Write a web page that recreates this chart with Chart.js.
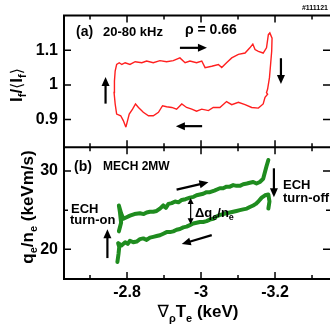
<!DOCTYPE html>
<html><head><meta charset="utf-8">
<script src="https://cdn.jsdelivr.net/npm/chart.js@4.4.1/dist/chart.umd.min.js"></script>
<style>html,body{margin:0;padding:0;background:#fff;overflow:hidden}#c{display:block}</style>
</head><body>
<canvas id="c" width="330" height="327"></canvas>
<script>
// ---- data ----
const xTicks = [-2.8, -3, -3.2];
const xMinorTicks = [-2.7, -2.9, -3.1, -3.3];
const fTicks = [0.9, 1, 1.1];
const qTicks = [20, 30];
const qMinorTicks = [25];

// (a) fluctuation amplitude loop  I_f/<I_f>
const fluctX = [-2.797,-2.790,-2.783,-2.772,-2.768,-2.765,-2.766,-2.768,-2.772,-2.779,
  -2.786,-2.795,-2.808,-2.822,-2.840,-2.853,-2.871,-2.889,-2.907,-2.925,
  -2.943,-2.957,-2.970,-2.988,-3.002,-3.011,-3.029,-3.047,-3.056,-3.069,
  -3.083,-3.101,-3.119,-3.132,-3.140,-3.146,-3.155,-3.168,-3.177,-3.182,
  -3.186,-3.192,-3.191,-3.188,-3.185,-3.180,-3.177,-3.180,-3.173,-3.168,
  -3.155,-3.137,-3.119,-3.101,-3.083,-3.069,-3.051,-3.033,-3.020,-3.002,
  -2.988,-2.975,-2.961,-2.948,-2.934,-2.921,-2.907,-2.896,-2.885,-2.871,
  -2.858,-2.844,-2.831,-2.823,-2.815,-2.806,-2.797];
const fluctY = [0.878,0.897,0.911,0.916,0.945,0.978,1.011,1.040,1.059,1.064,
  1.059,1.064,1.059,1.067,1.064,1.069,1.064,1.070,1.067,1.070,
  1.078,1.064,1.069,1.064,1.069,1.050,1.054,1.059,1.050,1.064,
  1.078,1.088,1.092,1.107,1.118,1.102,1.097,1.092,1.107,1.145,
  1.150,1.135,1.097,1.059,1.021,0.988,0.978,0.973,0.964,0.945,
  0.933,0.935,0.943,0.950,0.943,0.952,0.935,0.935,0.926,0.930,
  0.924,0.930,0.935,0.945,0.930,0.935,0.937,0.940,0.921,0.911,
  0.911,0.921,0.935,0.945,0.930,0.916,0.878];

// (b) q_e/n_e, ECH-on (upper) branch
const qUpX = [-2.778,-2.784,-2.781,-2.778,-2.784,-2.790,-2.799,-2.808,-2.820,-2.835,
  -2.845,-2.853,-2.862,-2.871,-2.880,-2.889,-2.898,-2.905,-2.912,-2.921,
  -2.930,-2.939,-2.948,-2.958,-2.970,-2.980,-2.988,-2.997,-3.006,-3.015,
  -3.024,-3.036,-3.051,-3.060,-3.069,-3.078,-3.087,-3.096,-3.105,-3.114,
  -3.124,-3.132,-3.141,-3.150,-3.159,-3.168,-3.173,-3.177,-3.182];
const qUpY = [22.3,23.4,24.7,25.6,24.6,23.9,24.1,24.3,24.5,24.6,
  24.5,24.7,24.8,24.8,24.9,25.2,25.6,25.3,25.8,25.9,
  26.1,26.0,26.3,26.4,26.6,26.7,26.9,27.0,27.1,27.3,
  27.3,27.5,27.8,27.8,28.0,28.0,28.2,28.1,28.1,28.3,
  28.4,28.5,28.6,28.4,28.6,29.0,29.9,30.6,31.4];

// (b) q_e/n_e, ECH-off (lower) branch
const qDownX = [-2.774,-2.777,-2.779,-2.776,-2.785,-2.795,-2.802,-2.808,-2.817,-2.826,
  -2.835,-2.844,-2.853,-2.862,-2.871,-2.880,-2.889,-2.898,-2.907,-2.916,
  -2.925,-2.934,-2.943,-2.952,-2.961,-2.970,-2.979,-2.988,-2.997,-3.006,
  -3.015,-3.024,-3.033,-3.042,-3.051,-3.060,-3.069,-3.078,-3.087,-3.096,
  -3.105,-3.114,-3.124,-3.132,-3.141,-3.148,-3.155,-3.164,-3.173,-3.182,
  -3.185,-3.182];
const qDownY = [18.4,19.4,20.3,20.8,20.5,20.9,20.7,21.1,20.9,21.0,
  21.3,21.4,21.2,21.5,21.6,21.7,21.8,22.0,22.2,22.2,
  22.3,22.5,22.6,22.8,22.9,23.1,23.3,23.4,23.5,23.5,
  23.6,23.8,23.9,24.2,24.4,24.5,24.6,24.7,24.8,24.9,
  25.0,25.1,25.2,25.4,25.6,25.8,26.1,26.6,26.9,27.0,
  26.1,25.2];

// ---- annotation placement (data coords: x1,y1 tail -> x2,y2 tip) ----
const arrowsF = [[-2.943,1.107,-3.016,1.107],[-3.216,1.077,-3.216,1.003],
                 [-2.742,0.946,-2.742,1.023],[-3.003,0.881,-2.932,0.881]];
const arrowsQ = [[-2.934,27.63,-3.020,28.56],[-3.197,30.34,-3.197,26.65],
                 [-2.747,18.89,-2.747,22.58],[-3.029,21.82,-2.948,20.67]];
const doubleArrowQ = [-2.972,26.56,-2.972,23.22];

const FAM = "'Liberation Sans', Arial, Helvetica, sans-serif";
const pts = (xs, ys) => xs.map((x, i) => ({x: x, y: ys[i]}));
const fmt = v => String(Math.round(v * 100) / 100);

function rich(ctx, segs, x, y, align, rot) {
  ctx.save();
  ctx.translate(x, y);
  if (rot) ctx.rotate(rot);
  let w = 0;
  segs.forEach(s => { ctx.font = s[1]; w += ctx.measureText(s[0]).width; });
  let cx = align === 'center' ? -w / 2 : 0;
  ctx.textAlign = 'left';
  ctx.textBaseline = 'alphabetic';
  ctx.fillStyle = '#000';
  segs.forEach(s => { ctx.font = s[1]; ctx.fillText(s[0], cx, s[2] || 0); cx += ctx.measureText(s[0]).width; });
  ctx.restore();
}
function arrow(ctx, x1, y1, x2, y2, lw, hl, hw, both) {
  const ang = Math.atan2(y2 - y1, x2 - x1);
  ctx.save();
  ctx.strokeStyle = '#000'; ctx.fillStyle = '#000'; ctx.lineWidth = lw;
  const head = (px, py, a) => {
    ctx.beginPath();
    ctx.moveTo(px, py);
    ctx.lineTo(px - hl * Math.cos(a) + hw / 2 * Math.sin(a), py - hl * Math.sin(a) - hw / 2 * Math.cos(a));
    ctx.lineTo(px - hl * Math.cos(a) - hw / 2 * Math.sin(a), py - hl * Math.sin(a) + hw / 2 * Math.cos(a));
    ctx.closePath(); ctx.fill();
  };
  const sx = both ? x1 + hl * 0.8 * Math.cos(ang) : x1, sy = both ? y1 + hl * 0.8 * Math.sin(ang) : y1;
  ctx.beginPath();
  ctx.moveTo(sx, sy);
  ctx.lineTo(x2 - hl * 0.8 * Math.cos(ang), y2 - hl * 0.8 * Math.sin(ang));
  ctx.stroke();
  head(x2, y2, ang);
  if (both) head(x1, y1, ang + Math.PI);
  ctx.restore();
}

const framePlugin = {
  id: 'frame',
  afterDraw(chart) {
    const ctx = chart.ctx, a = chart.chartArea;
    const x = chart.scales.x, yF = chart.scales.yF, yQ = chart.scales.yQ;
    const mid = yF.bottom;
    ctx.save();
    ctx.strokeStyle = '#000';
    ctx.lineWidth = 2;
    ctx.beginPath();
    ctx.moveTo(a.left, a.top); ctx.lineTo(a.right, a.top);
    ctx.moveTo(a.left, a.top - 1); ctx.lineTo(a.left, a.bottom + 1);
    ctx.moveTo(a.left, mid); ctx.lineTo(a.right, mid);
    ctx.moveTo(a.left, a.bottom); ctx.lineTo(a.right, a.bottom);
    ctx.stroke();
    ctx.lineWidth = 1.5;
    ctx.beginPath();
    const xt = (v, len) => {
      const p = x.getPixelForValue(v);
      ctx.moveTo(p, a.top); ctx.lineTo(p, a.top + len);
      ctx.moveTo(p, mid); ctx.lineTo(p, mid - len);
      ctx.moveTo(p, mid); ctx.lineTo(p, mid + len);
      ctx.moveTo(p, a.bottom); ctx.lineTo(p, a.bottom - len);
    };
    xTicks.forEach(v => xt(v, 7));
    xMinorTicks.forEach(v => xt(v, 4));
    const yt = (s, v, len) => {
      const p = s.getPixelForValue(v);
      ctx.moveTo(a.left, p); ctx.lineTo(a.left + len, p);
      ctx.moveTo(a.right, p); ctx.lineTo(a.right - len, p);
    };
    fTicks.forEach(v => yt(yF, v, 7));
    qTicks.forEach(v => yt(yQ, v, 7));
    qMinorTicks.forEach(v => yt(yQ, v, 4));
    ctx.stroke();

    // axis titles
    const B17 = "bold 17px " + FAM, S11 = "bold 11px " + FAM;
    rich(ctx, [['\u2207', "17px 'DejaVu Sans', sans-serif"], ['\u03c1', S11, 5], ['T', B17], ['e', S11, 5], [' (keV)', B17]],
      198, 317, 'center', 0);
    rich(ctx, [['I', B17], ['f', S11, 4], ['/', B17], ['\u27e8', "16px 'DejaVu Sans', sans-serif"], ['I', B17], ['f', S11, 4], ['\u27e9', "16px 'DejaVu Sans', sans-serif"]],
      22, 85, 'center', -Math.PI / 2);
    rich(ctx, [['q', B17], ['e', S11, 4], ['/', B17], ['n', B17], ['e', S11, 4], [' (keVm/s)', B17]],
      33, 207, 'center', -Math.PI / 2);

    // panel labels
    ctx.fillStyle = '#000';
    ctx.textBaseline = 'middle';
    ctx.textAlign = 'left';
    ctx.font = "bold 14px " + FAM; ctx.fillText('(a)', 76, 32);
    ctx.font = "bold 13px " + FAM; ctx.fillText('20-80 kHz', 103, 32);
    ctx.font = "bold 14px " + FAM; ctx.fillText('\u03c1 = 0.66', 185, 30);
    ctx.font = "bold 14px " + FAM; ctx.fillText('(b)', 74, 167);
    ctx.font = "bold 12px " + FAM; ctx.fillText('MECH 2MW', 103, 167);
    ctx.font = "bold 13px " + FAM;
    ctx.fillText('ECH', 283, 185); ctx.fillText('turn-off', 283, 198);
    ctx.fillText('ECH', 71, 209); ctx.fillText('turn-on', 70, 220);
    ctx.textAlign = 'right';
    ctx.font = "bold 7px " + FAM; ctx.fillText('#111121', 328, 8);
    rich(ctx, [['\u0394q', "bold 13px " + FAM], ['e', "bold 9px " + FAM, 3], ['/n', "bold 13px " + FAM], ['e', "bold 9px " + FAM, 3]],
      195, 217, 'left', 0);

    // arrows
    arrowsF.forEach(r => arrow(ctx, x.getPixelForValue(r[0]), yF.getPixelForValue(r[1]), x.getPixelForValue(r[2]), yF.getPixelForValue(r[3]), 2.2, 9, 8, false));
    arrowsQ.forEach(r => arrow(ctx, x.getPixelForValue(r[0]), yQ.getPixelForValue(r[1]), x.getPixelForValue(r[2]), yQ.getPixelForValue(r[3]), 2.2, 9, 8, false));
    const d = doubleArrowQ;
    arrow(ctx, x.getPixelForValue(d[0]), yQ.getPixelForValue(d[1]), x.getPixelForValue(d[2]), yQ.getPixelForValue(d[3]), 1.2, 6, 6, true);
    ctx.restore();
  }
};

const tickFont = {family: FAM, size: 16, weight: 'bold'};
new Chart(document.getElementById('c'), {
  type: 'scatter',
  data: {
    datasets: [
      {data: pts(fluctX, fluctY), yAxisID: 'yF', showLine: true, borderColor: '#ff1f1f', borderWidth: 1.4, pointRadius: 0, tension: 0, fill: false},
      {data: pts(qUpX, qUpY), yAxisID: 'yQ', showLine: true, borderColor: '#1f8c1f', borderWidth: 4, pointRadius: 0, tension: 0, fill: false, borderJoinStyle: 'round', borderCapStyle: 'round'},
      {data: pts(qDownX, qDownY), yAxisID: 'yQ', showLine: true, borderColor: '#1f8c1f', borderWidth: 4, pointRadius: 0, tension: 0, fill: false, borderJoinStyle: 'round', borderCapStyle: 'round'}
    ]
  },
  options: {
    responsive: false, animation: false, devicePixelRatio: 1,
    layout: {padding: {top: 14, left: 0, right: 0, bottom: 0}},
    plugins: {legend: {display: false}, tooltip: {enabled: false}},
    scales: {
      yQ: {
        type: 'linear', position: 'left', stack: 'panels', stackWeight: 1, min: 16.22, max: 33.02,
        afterFit(s) { s.width = 64; },
        afterBuildTicks(s) { s.ticks = qTicks.map(v => ({value: v})); },
        ticks: {font: tickFont, color: '#000', padding: 6, callback: v => fmt(v)},
        grid: {display: false, drawTicks: false}, border: {display: false}
      },
      yF: {
        type: 'linear', position: 'left', stack: 'panels', stackWeight: 1, min: 0.82, max: 1.2,
        afterFit(s) { s.width = 64; },
        afterBuildTicks(s) { s.ticks = fTicks.map(v => ({value: v})); },
        ticks: {font: tickFont, color: '#000', padding: 6, callback: v => fmt(v)},
        grid: {display: false, drawTicks: false}, border: {display: false}
      },
      x: {
        type: 'linear', position: 'bottom', reverse: true, min: -3.3486, max: -2.6297,
        afterFit(s) { s.height = 48; },
        afterBuildTicks(s) { s.ticks = xTicks.map(v => ({value: v})); },
        ticks: {font: tickFont, color: '#000', padding: 4, maxRotation: 0, autoSkip: false, callback: v => fmt(v)},
        grid: {display: false, drawTicks: false}, border: {display: false}
      }
    }
  },
  plugins: [framePlugin]
});
</script>
</body></html>
